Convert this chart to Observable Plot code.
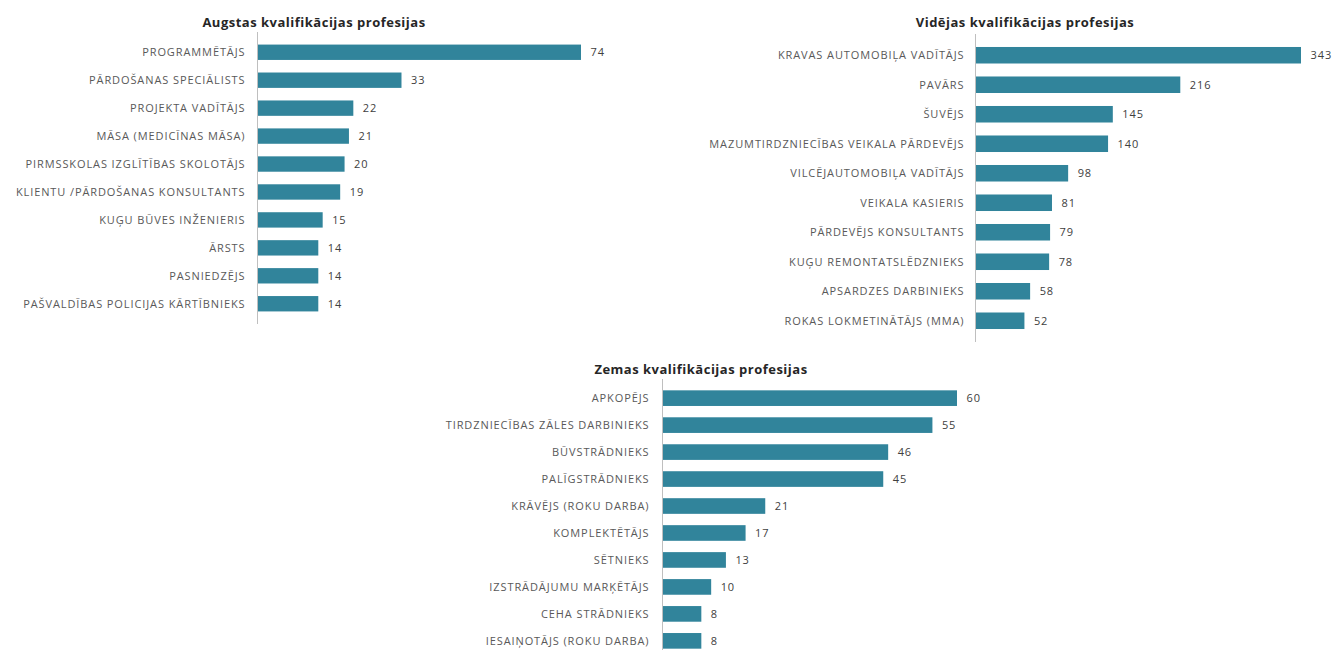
<!DOCTYPE html>
<html>
<head>
<meta charset="utf-8">
<script src="https://cdn.jsdelivr.net/npm/d3@7"></script>
<script src="https://cdn.jsdelivr.net/npm/@observablehq/plot@0.6"></script>
<style>
  html, body { margin: 0; padding: 0; background: #fff; width: 1335px; height: 650px; overflow: hidden; }
  .panel { position: absolute; }
  .title { position: absolute; font-family: "Open Sans", sans-serif; font-weight: 700; font-size: 13px; letter-spacing: 0.5px; color: #262626; white-space: nowrap; transform: translateX(-50%); }
</style>
</head>
<body>
<div id="root"></div>
<script>
const highTitle = "Augstas kvalifikācijas profesijas";
const highCats = ["PROGRAMMĒTĀJS","PĀRDOŠANAS SPECIĀLISTS","PROJEKTA VADĪTĀJS","MĀSA (MEDICĪNAS MĀSA)","PIRMSSKOLAS IZGLĪTĪBAS SKOLOTĀJS","KLIENTU /PĀRDOŠANAS KONSULTANTS","KUĢU BŪVES INŽENIERIS","ĀRSTS","PASNIEDZĒJS","PAŠVALDĪBAS POLICIJAS KĀRTĪBNIEKS"];
const highVals = [74,33,22,21,20,19,15,14,14,14];

const midTitle = "Vidējas kvalifikācijas profesijas";
const midCats = ["KRAVAS AUTOMOBIĻA VADĪTĀJS","PAVĀRS","ŠUVĒJS","MAZUMTIRDZNIECĪBAS VEIKALA PĀRDEVĒJS","VILCĒJAUTOMOBIĻA VADĪTĀJS","VEIKALA KASIERIS","PĀRDEVĒJS KONSULTANTS","KUĢU REMONTATSLĒDZNIEKS","APSARDZES DARBINIEKS","ROKAS LOKMETINĀTĀJS (MMA)"];
const midVals = [343,216,145,140,98,81,79,78,58,52];

const lowTitle = "Zemas kvalifikācijas profesijas";
const lowCats = ["APKOPĒJS","TIRDZNIECĪBAS ZĀLES DARBINIEKS","BŪVSTRĀDNIEKS","PALĪGSTRĀDNIEKS","KRĀVĒJS (ROKU DARBA)","KOMPLEKTĒTĀJS","SĒTNIEKS","IZSTRĀDĀJUMU MARĶĒTĀJS","CEHA STRĀDNIEKS","IESAIŅOTĀJS (ROKU DARBA)"];
const lowVals = [60,55,46,45,21,17,13,10,8,8];

const barColor = "#31849b";
const root = document.getElementById("root");

function panel(title, cats, vals, o) {
  const data = cats.map((c, i) => ({cat: c, val: vals[i]}));
  const div = document.createElement("div");
  div.className = "panel";
  div.style.left = o.left + "px";
  div.style.top = o.top + "px";
  const chart = Plot.plot({
    width: o.width,
    height: o.height,
    marginLeft: o.marginLeft,
    marginRight: o.marginRight,
    marginTop: o.marginTop,
    marginBottom: o.marginBottom,
    style: {fontFamily: "Open Sans, sans-serif", color: "#595959", background: "transparent", letterSpacing: "0.9px"},
    x: {domain: [0, d3.max(vals)], range: [o.marginLeft, o.marginLeft + o.barLen], axis: null},
    y: {domain: cats, padding: o.pad, round: false, label: null},
    marks: [
      Plot.barX(data, {x: "val", y: "cat", fill: barColor}),
      Plot.ruleX([0], {stroke: "#bfbfbf", strokeWidth: 1}),
      Plot.axisY({tickSize: 0, tickPadding: o.tickPad, fontSize: 11, label: null}),
      Plot.text(data, {x: "val", y: "cat", text: d => String(d.val), dx: 9, textAnchor: "start", fontSize: 11, fill: "#404040"})
    ]
  });
  div.appendChild(chart);
  root.appendChild(div);
  const t = document.createElement("div");
  t.className = "title";
  t.textContent = title;
  t.style.left = o.titleX + "px";
  t.style.top = o.titleY + "px";
  root.appendChild(t);
}

panel(highTitle, highCats, highVals, {left: 0, top: 0, width: 640, height: 324, marginLeft: 257, marginRight: 40, marginTop: 32, marginBottom: 0, barLen: 324, pad: 0.45, tickPad: 12, titleX: 314, titleY: 13});
panel(midTitle, midCats, midVals, {left: 660, top: 0, width: 675, height: 342, marginLeft: 315, marginRight: 30, marginTop: 34, marginBottom: 0, barLen: 326, pad: 0.44, tickPad: 11, titleX: 1025, titleY: 13});
panel(lowTitle, lowCats, lowVals, {left: 300, top: 355, width: 720, height: 305, marginLeft: 362, marginRight: 40, marginTop: 24, marginBottom: 0, barLen: 295, pad: 0.42, tickPad: 13, titleX: 701, titleY: 360});
</script>
</body>
</html>
